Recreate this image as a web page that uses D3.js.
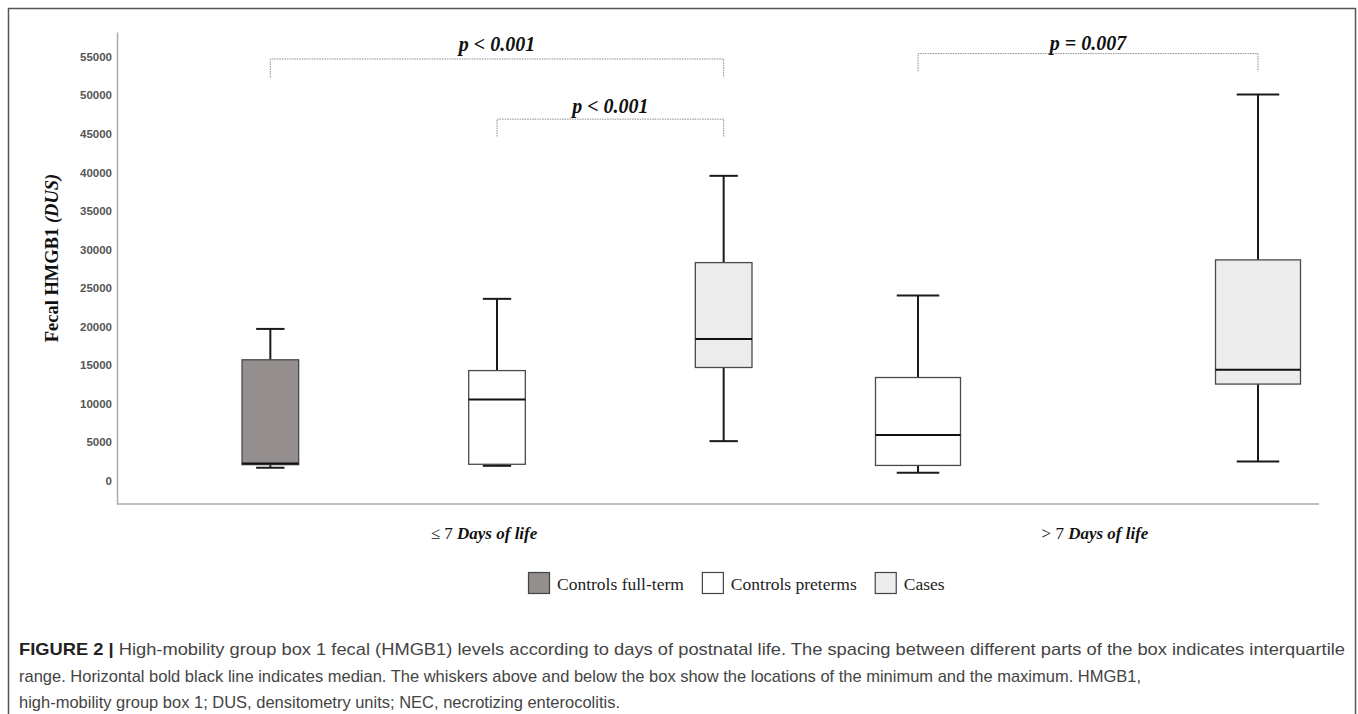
<!DOCTYPE html>
<html>
<head>
<meta charset="utf-8">
<script src="https://cdn.jsdelivr.net/npm/d3@7"></script>
<style>
  body { margin: 0; background: #fff; }
  svg { display: block; }
</style>
</head>
<body>
<div id="chart"></div>
<script>
// groups on the x axis and the series inside them
const groups = ["le7", "gt7"];
const groupPrefix = ["\u2264 7 ", "> 7 "];
const groupSuffix = ["Days of life", "Days of life"];
const seriesNames = ["Controls full-term", "Controls preterms", "Cases"];

// one entry per box
const boxGroup  = ["le7", "le7", "le7", "gt7", "gt7"];
const boxSeries = ["Controls full-term", "Controls preterms", "Cases", "Controls preterms", "Cases"];
const boxMin    = [1700, 1950, 5150, 1050, 2500];
const boxQ1     = [2100, 2150, 14700, 2000, 12550];
const boxMedian = [2250, 10550, 18400, 5950, 14400];
const boxQ3     = [15700, 14300, 28300, 13400, 28650];
const boxMax    = [19700, 23600, 39550, 24050, 50100];

const yTicks = [0, 5000, 10000, 15000, 20000, 25000, 30000, 35000, 40000, 45000, 50000, 55000];

// significance brackets (box index from / to, values in DUS)
const bracketFrom   = [0, 1, 3];
const bracketTo     = [2, 2, 4];
const bracketTop    = [54700, 46900, 55400];
const bracketBottom = [52300, 44650, 53100];
const bracketLabelY = [55800, 47700, 55900];
const bracketLabels = ["p < 0.001", "p < 0.001", "p = 0.007"];

const captionLines = [
  ["FIGURE 2 | ", "High-mobility group box 1 fecal (HMGB1) levels according to days of postnatal life. The spacing between different parts of the box indicates interquartile"],
  ["", "range. Horizontal bold black line indicates median. The whiskers above and below the box show the locations of the minimum and the maximum. HMGB1,"],
  ["", "high-mobility group box 1; DUS, densitometry units; NEC, necrotizing enterocolitis."]
];

const fills = {"Controls full-term": "#948e8e", "Controls preterms": "#ffffff", "Cases": "#ececec"};
const serif = "'Liberation Serif', 'Times New Roman', serif";
const sans = "'Liberation Sans', Arial, sans-serif";

const width = 1358, height = 714;

const svg = d3.select("#chart")
  .append("svg")
    .attr("width", width)
    .attr("height", height);

// outer frame
svg.append("rect")
  .attr("x", 8.5).attr("y", 8.5)
  .attr("width", 1347).attr("height", 730)
  .attr("fill", "none")
  .attr("stroke", "#555")
  .attr("stroke-width", 1.5);

// scales
const y = d3.scaleLinear()
  .domain([-3000, 58200])
  .range([504, 32]);

const x = d3.scalePoint()
  .domain(groups)
  .range([497, 1088]);

const inner = {};
groups.forEach(g => {
  inner[g] = d3.scaleBand()
    .domain(seriesNames.filter(s => boxSeries.some((b, j) => b === s && boxGroup[j] === g)))
    .range([-340, 340])
    .paddingInner(0.75)
    .paddingOuter(0.375);
});

const boxes = boxGroup.map((g, i) => ({
  group: g, series: boxSeries[i],
  min: boxMin[i], q1: boxQ1[i], median: boxMedian[i], q3: boxQ3[i], max: boxMax[i]
}));
const cx = d => x(d.group) + inner[d.group](d.series) + inner[d.group].bandwidth() / 2;
const bw = d => inner[d.group].bandwidth();

// y axis
const yAxis = svg.append("g")
  .attr("transform", "translate(117,0)")
  .call(d3.axisLeft(y).tickValues(yTicks).tickSize(0).tickPadding(5).tickFormat(d3.format("d")));
yAxis.select(".domain").attr("stroke", "#aaa").attr("stroke-width", 1.5);
yAxis.selectAll("text")
  .style("font-family", sans)
  .style("font-size", "11.5px")
  .style("font-weight", "bold")
  .attr("fill", "#555");

// x axis line
svg.append("line")
  .attr("x1", 117).attr("x2", 1319)
  .attr("y1", y.range()[0]).attr("y2", y.range()[0])
  .attr("stroke", "#aaa")
  .attr("stroke-width", 1.5);

// y axis title
const yTitle = svg.append("text")
  .attr("transform", "translate(58,258) rotate(-90)")
  .attr("text-anchor", "middle")
  .style("font-family", serif)
  .style("font-size", "18.5px")
  .style("font-weight", "bold")
  .attr("fill", "#111");
yTitle.append("tspan").text("Fecal HMGB1 ");
yTitle.append("tspan").style("font-style", "italic").text("(DUS)");

// whiskers
const bx = svg.append("g").selectAll("g")
  .data(boxes)
  .join("g");

bx.append("line")
  .attr("x1", cx).attr("x2", cx)
  .attr("y1", d => y(d.max)).attr("y2", d => y(d.min))
  .attr("stroke", "#1a1a1a")
  .attr("stroke-width", 2);

bx.selectAll(".cap")
  .data(d => [d.min, d.max].map(v => ({d, v})))
  .join("line")
    .attr("class", "cap")
    .attr("x1", e => cx(e.d) - bw(e.d) / 4)
    .attr("x2", e => cx(e.d) + bw(e.d) / 4)
    .attr("y1", e => y(e.v)).attr("y2", e => y(e.v))
    .attr("stroke", "#1a1a1a")
    .attr("stroke-width", 2);

// boxes
bx.append("rect")
  .attr("x", d => cx(d) - bw(d) / 2)
  .attr("width", bw)
  .attr("y", d => y(d.q3))
  .attr("height", d => y(d.q1) - y(d.q3))
  .attr("fill", d => fills[d.series])
  .attr("stroke", "#4a4a4a")
  .attr("stroke-width", 1.3);

// medians
bx.append("line")
  .attr("x1", d => cx(d) - bw(d) / 2).attr("x2", d => cx(d) + bw(d) / 2)
  .attr("y1", d => y(d.median)).attr("y2", d => y(d.median))
  .attr("stroke", "#111")
  .attr("stroke-width", 2);

// significance brackets
bracketFrom.forEach((f, i) => {
  const x1 = cx(boxes[f]), x2 = cx(boxes[bracketTo[i]]);
  svg.append("path")
    .attr("d", `M${x1},${y(bracketBottom[i])}V${y(bracketTop[i])}H${x2}V${y(bracketBottom[i])}`)
    .attr("fill", "none")
    .attr("stroke", "#8a8a8a")
    .attr("stroke-width", 1)
    .attr("stroke-dasharray", "1.5,1");
  svg.append("text")
    .attr("x", (x1 + x2) / 2)
    .attr("y", y(bracketLabelY[i]))
    .attr("text-anchor", "middle")
    .style("font-family", serif)
    .style("font-size", "20px")
    .style("font-weight", "bold")
    .style("font-style", "italic")
    .attr("fill", "#111")
    .text(bracketLabels[i]);
});

// group labels
groups.forEach((g, i) => {
  const t = svg.append("text")
    .attr("x", x(g) - (i === 0 ? 13 : -7))
    .attr("y", 539)
    .attr("text-anchor", "middle")
    .style("font-family", serif)
    .style("font-size", "17px")
    .attr("fill", "#111");
  t.append("tspan").text(groupPrefix[i]);
  t.append("tspan").style("font-weight", "bold").style("font-style", "italic").text(groupSuffix[i]);
});

// legend
let lx = 528;
seriesNames.forEach((s, i) => {
  svg.append("rect")
    .attr("x", lx + 0.5).attr("y", 572.5)
    .attr("width", 21).attr("height", 21)
    .attr("fill", fills[s])
    .attr("stroke", "#444")
    .attr("stroke-width", 1.2);
  const t = svg.append("text")
    .attr("x", lx + 29)
    .attr("y", 590)
    .style("font-family", serif)
    .style("font-size", "17.5px")
    .attr("fill", "#222")
    .text(s);
  lx += 29 + t.node().getComputedTextLength() + 18;
});

// caption: first line is justified to full width, the others keep line 2's glyph squeeze
const capTexts = captionLines.map((line, i) => {
  const t = svg.append("text")
    .attr("x", 19)
    .attr("y", 655 + i * 26.5)
    .style("font-family", sans)
    .style("font-size", "17px")
    .attr("fill", "#444");
  if (line[0]) t.append("tspan").style("font-weight", "bold").attr("fill", "#222").text(line[0]);
  t.append("tspan").text(line[1]);
  return t;
});
const squeeze = 1122 / capTexts[1].node().getComputedTextLength();
capTexts.forEach((t, i) => {
  t.attr("textLength", i === 0 ? 1326 : t.node().getComputedTextLength() * squeeze)
   .attr("lengthAdjust", "spacingAndGlyphs");
});
</script>
</body>
</html>
